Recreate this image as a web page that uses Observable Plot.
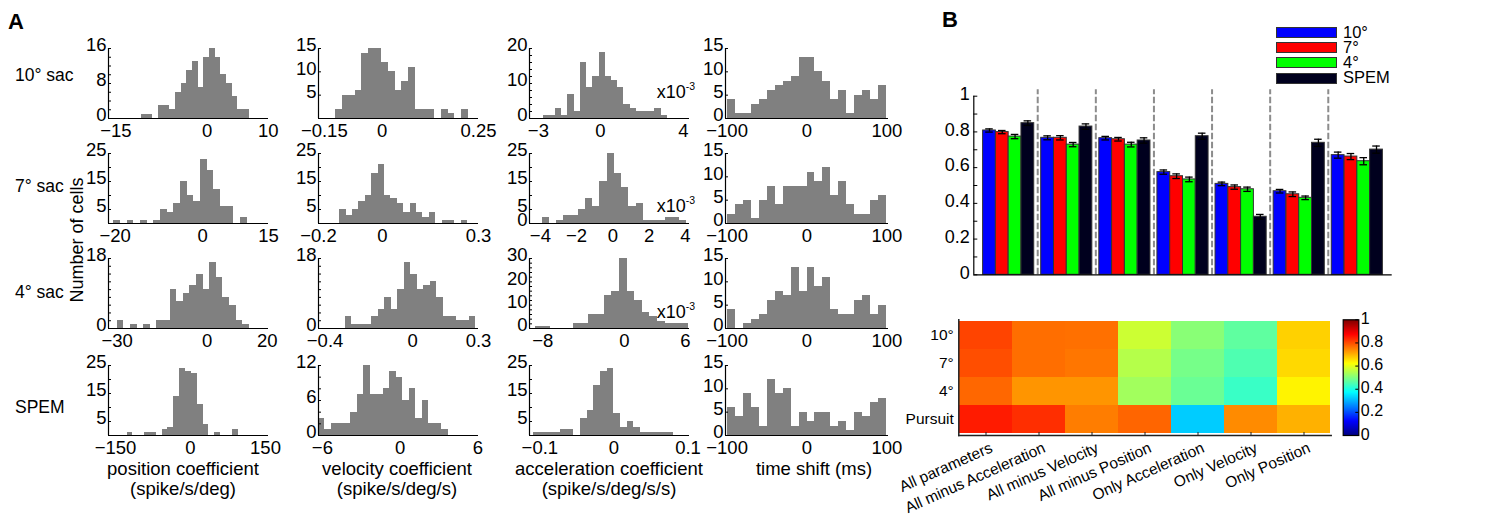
<!DOCTYPE html>
<html><head><meta charset="utf-8">
<script src="https://cdn.jsdelivr.net/npm/d3@7"></script>
<script src="https://cdn.jsdelivr.net/npm/@observablehq/plot@0.6"></script>
<style>
html,body{margin:0;padding:0;background:#fff;}
#root{position:relative;width:1512px;height:524px;overflow:hidden;background:#fff;font-family:"Liberation Sans",Arial,Helvetica,sans-serif;color:#000;}
</style></head>
<body><div id="root"></div>
<script>
// ---------------- DATA: panel A histograms (counts per bin) ----------------
const rowNames = ["10° sac", "7° sac", "4° sac", "SPEM"];
const colTitles = [["position coefficient", "(spike/s/deg)"], ["velocity coefficient", "(spike/s/deg/s)"],
                   ["acceleration coefficient", "(spike/s/deg/s/s)"], ["time shift (ms)"]];

const pos10 = [1,1,0,3,3,2,6,8,11,13,7,14,16,14,10,8,5,2,2];
const pos7  = [1,0,1,0,1,0,1,5,4,7,15,10,8,23,19,12,6,6,0,2];
const pos4  = [2,0,1,0,1,0,2,2,10,7,9,11,14,10,17,13,8,6,2,1];
const posSP = [1,0,0,1,1,0,2,3,14,24,23,22,11,4,0,1,0,0,2];
const vel10 = [2,5,5,6,14,15,15,12,10,6,8,11,2,2,2,0,2,1,0,2];
const vel7  = [5,3,5,8,10,18,21,10,9,7,4,7,4,2,4,0,1,1,0,1];
const vel4  = [3,1,1,1,3,5,8,5,10,17,14,10,11,12,8,3,3,2,2,3];
const velSP = [3,1,2,2,2,4,7,12,7,7,8,11,10,6,8,3,6,2,2,1];
const acc10 = [1,1,3,1,7,2,16,9,12,19,12,11,9,4,3,2,2,2,3,1];
const acc7  = [2,0,1,3,3,5,9,6,15,25,18,13,6,7,1,1,1,2,2,1];
const acc4  = [1,1,0,0,0,2,2,6,6,14,16,30,16,12,7,5,3,2,2,2];
const accSP = [1,1,1,1,2,2,0,6,9,18,23,24,8,3,5,3,1,1,1,1,1];
const sh10  = [4,1,1,3,4,6,7,8,9,13,13,10,8,4,6,1,5,6,4,7];
const sh7   = [2,4,5,1,5,8,4,8,8,8,11,9,12,6,9,4,2,2,5,6];
const sh4   = [4,0,1,2,3,6,8,7,13,8,13,9,11,4,3,3,6,7,3,5];
const shSP  = [6,4,9,6,2,12,9,10,2,5,3,5,5,2,3,1,5,4,7,8];

// bin left edges and widths (rows: 10°, 7°, 4°, SPEM); acceleration for saccades in units of 1e-3
const posStart = [-10.8, -20.3, -30, -126.7], posWidth = [0.93, 1.52, 2.2, 11.67];
const velStart = [-0.121, -0.134, -0.307, -6.3], velWidth = [0.0172, 0.02, 0.0297, 0.5];
const accStart = [-2.77, -3.91, -8.73, -0.108], accWidth = [0.3, 0.4, 0.75, 0.009];
const shStart  = [-100, -100, -100, -100],      shWidth  = [10, 10, 10, 10];

const posDomain = [[-16.2, 10.05], [-21.5, 15], [-32.9, 20.4], [-164, 156]];
const velDomain = [[-0.165, 0.25], [-0.2, 0.3], [-0.43, 0.3], [-6.3, 6.05]];
const accDomain = [[-3.43, 4.3], [-4.6, 4.23], [-9.3, 6.4], [-0.114, 0.102]];
const shDomain  = [[-102, 102], [-102, 102], [-102, 102], [-102, 102]];

const posTicks = [[-15, 0, 10], [-20, 0, 15], [-30, 0, 20], [-150, 0, 150]];
const velTicks = [[-0.15, 0, 0.25], [-0.2, 0, 0.3], [-0.4, 0, 0.3], [-6, 0, 6]];
const accTicks = [[-3, 0, 4], [-4, -2, 0, 2, 4], [-8, 0, 6], [-0.1, 0, 0.1]];
const shTicks  = [[-100, 0, 100], [-100, 0, 100], [-100, 0, 100], [-100, 0, 100]];

// y axes per [row][col]
const yMax = [[16, 15, 20, 15], [25, 25, 25, 15], [18, 18, 30, 15], [25, 12, 25, 15]];
const yLabels = [
  [[0, 8, 16], [5, 10, 15], [0, 10, 20], [0, 5, 10, 15]],
  [[5, 15, 25], [5, 15, 25], [0, 5, 15, 25], [0, 5, 10, 15]],
  [[0, 18], [0, 18], [0, 10, 20, 30], [0, 5, 10, 15]],
  [[5, 15, 25], [0, 6, 12], [5, 15, 25], [0, 5, 10, 15]]];
const yMinorStep = [[2, 5, 2, 5], [5, 5, 5, 5], [2, 2, 2, 5], [5, 2, 5, 5]];
const sciRows = [0, 1, 2]; // rows of acceleration column with x10^-3 label

// ---------------- DATA: panel B ----------------
const groupNames = ["All parameters", "All minus Acceleration", "All minus Velocity", "All minus Position",
                    "Only Acceleration", "Only Velocity", "Only Position"];
const seriesNames = ["10°", "7°", "4°", "SPEM"];
const heatRowNames = ["10°", "7°", "4°", "Pursuit"];
const seriesColors = ["#0000ff", "#ff0000", "#00ff00", "#00001e"];
const val10 = [0.808, 0.767, 0.765, 0.575, 0.509, 0.468, 0.670];
const val7  = [0.799, 0.767, 0.759, 0.552, 0.491, 0.451, 0.662];
const val4  = [0.774, 0.729, 0.729, 0.534, 0.479, 0.431, 0.636];
const valSP = [0.849, 0.830, 0.752, 0.776, 0.325, 0.739, 0.701];
const err10 = [0.009, 0.011, 0.010, 0.012, 0.010, 0.010, 0.017];
const err7  = [0.009, 0.012, 0.010, 0.013, 0.012, 0.013, 0.017];
const err4  = [0.012, 0.012, 0.013, 0.013, 0.012, 0.010, 0.020];
const errSP = [0.013, 0.015, 0.015, 0.017, 0.013, 0.020, 0.020];
const barYLabels = [0, 0.2, 0.4, 0.6, 0.8, 1];
const barYMinor = [0, 0.1, 0.2, 0.3, 0.4, 0.5, 0.6, 0.7, 0.8, 0.9, 1];
const cbTicks = [0, 0.2, 0.4, 0.6, 0.8, 1];

// ---------------- helpers ----------------
const FONT = '"Liberation Sans", Arial, Helvetica, sans-serif';
const root = document.getElementById("root");
const fmt = d => (d < 0 ? "\u2212" : "") + String(Math.abs(d));
function mount(svg, left, top) {
  svg.style.position = "absolute";
  svg.style.left = left + "px";
  svg.style.top = top + "px";
  svg.style.overflow = "visible";
  svg.style.maxWidth = "none";
  root.appendChild(svg);
}
function textAt(str, x, baseline, fs, {anchor = "start", weight = "normal", html = false} = {}) {
  const d = document.createElement("div");
  d.style.cssText = `position:absolute;white-space:nowrap;line-height:1;font-size:${fs}px;font-weight:${weight};font-family:${FONT};`;
  if (html) d.innerHTML = str; else d.textContent = str;
  d.style.left = x + "px";
  d.style.top = (baseline - 0.8465 * fs) + "px";
  if (anchor === "middle") d.style.transform = "translateX(-50%)";
  if (anchor === "end") d.style.transform = "translateX(-100%)";
  root.appendChild(d);
  return d;
}
const jet = t => {
  const c = v => Math.max(0, Math.min(1, v));
  const r = c(1.5 - Math.abs(4 * t - 3)), g = c(1.5 - Math.abs(4 * t - 2)), b = c(1.5 - Math.abs(4 * t - 1));
  return `rgb(${Math.round(r * 255)},${Math.round(g * 255)},${Math.round(b * 255)})`;
};

// ---------------- panel A ----------------
const colCounts = [[pos10, pos7, pos4, posSP], [vel10, vel7, vel4, velSP], [acc10, acc7, acc4, accSP], [sh10, sh7, sh4, shSP]];
const colStarts = [posStart, velStart, accStart, shStart];
const colWidths = [posWidth, velWidth, accWidth, shWidth];
const colDomains = [posDomain, velDomain, accDomain, shDomain];
const colTicks = [posTicks, velTicks, accTicks, shTicks];

const rowTop = [48, 153, 258, 365];
const colLeft = [108, 318, 529, 725];
const frameW = [160, 160, 160, 163];
const FH = 70, ML = 36, MR = 22, MT = 10, MB = 30;

for (let r = 0; r < 4; r++) {
  for (let c = 0; c < 4; c++) {
    const W = frameW[c];
    const dom = colDomains[c][r];
    const lo = colStarts[c][r], w = colWidths[c][r];
    const bins = colCounts[c][r].map((n, i) => ({x1: lo + i * w, x2: lo + (i + 1) * w, n}));
    const ymax = yMax[r][c];
    const minor = d3.range(0, ymax + 1e-9, yMinorStep[r][c]);
    const svg = Plot.plot({
      width: W + ML + MR, height: FH + MT + MB,
      marginLeft: ML, marginRight: MR, marginTop: MT, marginBottom: MB,
      style: {fontFamily: FONT, fontSize: "18.5px", color: "#000", background: "transparent"},
      x: {domain: dom, label: null},
      y: {domain: [0, ymax], label: null},
      marks: [
        Plot.rect(bins, {x1: "x1", x2: "x2", y1: 0, y2: "n", fill: "#808080", shapeRendering: "crispEdges"}),
        Plot.ruleY([0], {stroke: "#000", strokeWidth: 1.2}),
        Plot.ruleX([dom[0]], {stroke: "#000", strokeWidth: 1.2}),
        Plot.tickY(minor, {y: d => d, insetRight: W - 3, stroke: "#000"}),
        Plot.axisX(colTicks[c][r], {tickSize: 0, tickPadding: 5, tickFormat: fmt, label: null}),
        Plot.axisY(yLabels[r][c], {tickSize: 0, tickPadding: 2, dy: -3, tickFormat: fmt, label: null})
      ]
    });
    mount(svg, colLeft[c] - ML, rowTop[r] - MT);
  }
}
// labels panel A
textAt("A", 8, 30, 22, {weight: "bold"});
const rowLabelBase = [82, 193, 299, 414];
rowNames.forEach((s, i) => textAt(s, 15, rowLabelBase[i], 17.5));
{
  const d = textAt("Number of cells", 77, 240, 18);
  d.style.top = "240px";
  d.style.transform = "translate(-50%,-50%) rotate(-90deg)";
}
const titleCenters = [183, 397, 609, 814];
colTitles.forEach((lines, c) => lines.forEach((s, k) => textAt(s, titleCenters[c], 476 + k * 19.5, 18.5, {anchor: "middle"})));
const sciBase = [98, 212, 318];
sciRows.forEach(r => textAt('x10<span style="font-size:10.5px;position:relative;top:-7.5px">-3</span>', 695, sciBase[r], 18, {anchor: "end", html: true}));

// ---------------- panel B: bar chart ----------------
const vals = [val10, val7, val4, valSP], errs = [err10, err7, err4, errSP];
const barOffset = [-0.33, -0.11, 0.11, 0.33], halfW = 0.11, capW = 0.065;
const barRows = [];
groupNames.forEach((g, i) => seriesNames.forEach((s, j) =>
  barRows.push({c: i + 1 + barOffset[j], v: vals[j][i], e: errs[j][i], col: seriesColors[j]})));
const dividers = groupNames.slice(1).map((_, i) => i + 1.5);
const BW = 480, BH = 210, BML = 53.3, BMR = 8.3, BMT = 15.7, BMB = 15.7;
const barSvg = Plot.plot({
  width: BW, height: BH, marginLeft: BML, marginRight: BMR, marginTop: BMT, marginBottom: BMB,
  style: {fontFamily: FONT, fontSize: "18px", color: "#000", background: "transparent"},
  x: {domain: [0.4, 7.6], axis: null, label: null},
  y: {domain: [0, 1], label: null},
  color: {type: "identity"},
  marks: [
    Plot.ruleX(dividers, {x: d => d, y1: 0, y2: 1.036, stroke: "#8c8c8c", strokeWidth: 2, strokeDasharray: "6.5,2.5", clip: false}),
    Plot.rect(barRows, {x1: d => d.c - halfW, x2: d => d.c + halfW, y1: 0, y2: "v", fill: "col", stroke: "#333", strokeWidth: 1}),
    Plot.ruleX(barRows, {x: "c", y1: d => d.v - d.e, y2: d => d.v + d.e, stroke: "#000", strokeWidth: 1.3}),
    Plot.ruleY(barRows, {y: d => d.v + d.e, x1: d => d.c - capW, x2: d => d.c + capW, stroke: "#000", strokeWidth: 1.3}),
    Plot.ruleY(barRows, {y: d => d.v - d.e, x1: d => d.c - capW, x2: d => d.c + capW, stroke: "#000", strokeWidth: 1.3}),
    Plot.ruleY([0], {stroke: "#000", strokeWidth: 1.2}),
    Plot.ruleX([0.4], {stroke: "#000", strokeWidth: 1.2}),
    Plot.tickY(barYMinor, {y: d => d, insetRight: BW - BML - BMR - 4, stroke: "#000"}),
    Plot.axisY(barYLabels, {tickSize: 0, tickPadding: 4, dy: -2, tickFormat: d => String(d), label: null})
  ]
});
mount(barSvg, 920, 80);
textAt("B", 942, 28, 22, {weight: "bold"});
// legend
seriesNames.forEach((s, i) => {
  const d = document.createElement("div");
  d.style.cssText = `position:absolute;left:1276px;top:${27 + i * 15.2}px;width:61px;height:11px;box-sizing:border-box;border:1.5px solid #333;background:${seriesColors[i]};`;
  root.appendChild(d);
  textAt(s, 1343, 37.5 + i * 15.2, 16.5);
});

// ---------------- panel B: heatmap ----------------
const heatData = heatRowNames.flatMap((row, i) => groupNames.map((g, j) => ({row, g, v: vals[i][j]})));
const HW = 500, HH = 224, HML = 98.3, HMR = 29.3, HMT = 19.3, HMB = 89;
const heatSvg = Plot.plot({
  width: HW, height: HH, marginLeft: HML, marginRight: HMR, marginTop: HMT, marginBottom: HMB,
  style: {fontFamily: FONT, fontSize: "15.5px", color: "#000", background: "transparent"},
  x: {domain: groupNames, padding: 0, axis: null, label: null},
  y: {domain: heatRowNames, padding: 0, label: null},
  color: {type: "linear", domain: [0, 1], interpolate: jet},
  marks: [
    Plot.cell(heatData, {x: "g", y: "row", fill: "v", inset: 0, shapeRendering: "crispEdges"}),
    Plot.frame({anchor: "left", stroke: "#222", strokeWidth: 1.5}),
    Plot.frame({anchor: "bottom", stroke: "#222", strokeWidth: 1.5}),
    Plot.tickX(groupNames, {x: d => d, insetTop: HH - HMT - HMB - 3, stroke: "#222"}),
    Plot.axisY({tickSize: 0, tickPadding: 5, label: null}),
    Plot.text(groupNames, {x: d => d, frameAnchor: "bottom", rotate: -24, textAnchor: "end", lineAnchor: "top", dy: 6, dx: 3, fontSize: 15.5})
  ]
});
mount(heatSvg, 860, 300);

// colorbar
const CW = 60, CML = 7.7, CMR = 36.7;
const cbSvg = Plot.plot({
  width: CW, height: HH, marginLeft: CML, marginRight: CMR, marginTop: HMT, marginBottom: HMB,
  style: {fontFamily: FONT, fontSize: "16px", color: "#000", background: "transparent"},
  x: {domain: [0, 1], axis: null, label: null},
  y: {domain: [0, 1], label: null},
  color: {type: "linear", domain: [0, 1], interpolate: jet},
  marks: [
    Plot.raster({fill: (x, y) => y, x1: 0, x2: 1, y1: 0, y2: 1, width: 4, height: 232}),
    Plot.frame({stroke: "#000", strokeWidth: 1.2}),
    Plot.tickY(cbTicks, {y: d => d, insetLeft: CW - CML - CMR - 3, stroke: "#000"}),
    Plot.axisY(cbTicks, {anchor: "right", tickSize: 0, tickPadding: 2, dy: -1, tickFormat: d => String(d), label: null})
  ]
});
mount(cbSvg, 1335, 300);
</script>
</body></html>
